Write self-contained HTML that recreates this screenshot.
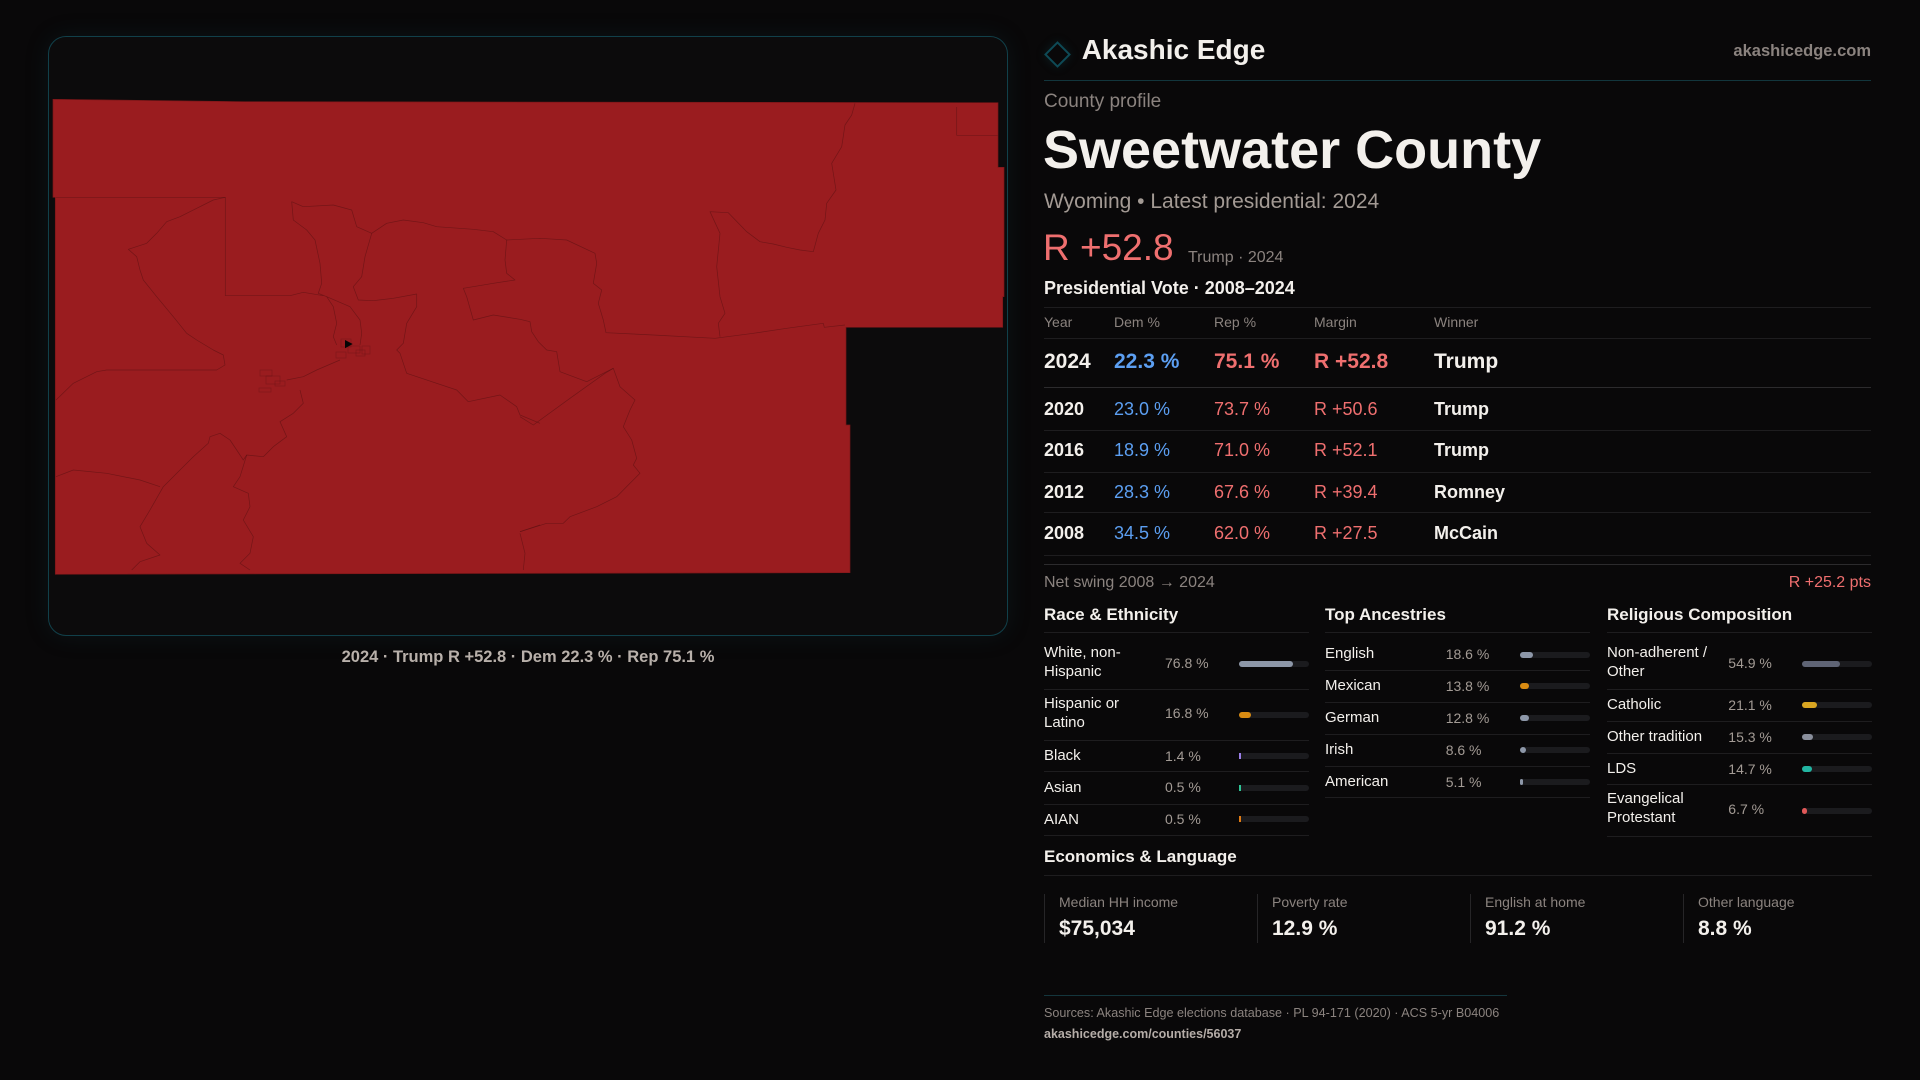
<!DOCTYPE html>
<html>
<head>
<meta charset="utf-8">
<style>
  html,body{margin:0;padding:0;}
  body{width:1920px;height:1080px;background:#090809;position:relative;overflow:hidden;
       font-family:"Liberation Sans",Arial,sans-serif;color:#f3f0ec;}
  .t{position:absolute;white-space:nowrap;line-height:1;}
  .b{font-weight:bold;}
  .g{color:#8b837f;}
  .v{color:#a39b95;}
  .w{color:#f3f0ec;}
  .blu{color:#5c9ff2;}
  .red{color:#ef6f6f;}
  .hl{position:absolute;height:1px;background:#1e1d1f;}
  .hl2{position:absolute;height:1px;background:#2c2b2d;}
  .trk{position:absolute;width:70px;height:6px;border-radius:3px;background:#1b1b1e;}
  .fil{position:absolute;left:0;top:0;height:6px;border-radius:3px;}
  .two{line-height:18.7px;}
  .vb{position:absolute;width:1px;height:49px;top:894px;background:#262527;}
</style>
</head>
<body>

<!-- Map panel -->
<div style="position:absolute;left:48px;top:36px;width:960px;height:600px;box-sizing:border-box;border:1px solid #11404a;border-radius:18px;background:#0c0b0c;box-shadow:0 0 24px rgba(20,70,85,0.18);"></div>

<svg style="position:absolute;left:0;top:0;" width="1920" height="700" viewBox="0 0 1920 700">
  <path d="M53,99.3 L246,101.7 L998,102.7 L998,167.3 L1004,167.3 L1004,296.7 L1002.7,296.7 L1002.7,327.3 L846,327.3 L846,425 L850,425 L850,572.7 L55.3,574.3 L55.3,197.3 L53,197.3 Z" fill="#9a1c1f" stroke="#7a1618" stroke-width="0.7"/>
  <g fill="none" stroke="#5a1113" stroke-width="0.7" stroke-opacity="0.6" stroke-linejoin="round">
    <polyline points="56,197.3 225.3,197.3 225.3,295.7 290,295.7 303.3,292.3 323.3,295.7"/>
    <polyline points="225.3,197.3 213.3,200 196.7,208.3 180,216.7 166.7,221.7 156.7,233.3 146.7,243.3 128.3,249.3 136.7,256.7 140,270 143.3,280 156.7,296.7 173.3,316.7 186.7,333.3 196.7,340 213.3,350 223.3,355 225,365 216.7,370 106.7,370 96.7,371.7 73.3,383.3 56,400"/>
    <polyline points="291.7,201.7 303.3,206.7 333.3,205 351.7,210 356.7,226.7 371.7,233.3 365,256.7 361.7,276.7 353.3,286.7 358.3,300 373.3,300.7 393.3,298.3 416.7,294 416.7,306.7 406.7,323.3 403.3,343.3 396.7,350 400,353.3 406.7,373.3 456.7,390 468.3,401.7 500,395 516.7,406.7 520,415 540,423.3"/>
    <polyline points="291.7,201.7 293.3,220 306.7,230 315,240 320,263.3 321.7,283.3 318.3,293.3 326.7,296.7 333.3,306.7 336.7,323.3 333.3,336.7 336.7,345"/>
    <polyline points="326.7,296.7 350,306.7 360,320 361.7,333.3 360,345"/>
    <polyline points="371.7,233.3 386.7,223.3 403.3,220 423.3,222.7 436.7,226.7 473.3,229.3 493.3,231.7 506.7,240 540,238.3 566.7,240 595,253.3 596.7,263.3 593.3,283.3 601.7,290 598.3,303.3 603.3,320 606,332.7 653.3,335 715,338.3 753.3,333.3 786.7,328.3 823.3,323.3 824.3,327.3 845,325"/>
    <polyline points="506.7,240 505,260 506.7,273.3 515,280 493.3,283.3 463.3,288.3 466.7,296.7 473.3,320 493.3,315 520,319.3 530,321.7 531.7,331.7 538.3,341.7 546.7,350 556.7,351.7 560,371.7 586.7,381.7 613.3,368.3 620,386.7 635,400 630,410 623.3,426.7 631.7,440 636.7,458.3 633.3,465 640,473.3 630,483.3 616.7,496.7 596.7,506.7 570,516.7 563.3,523.3 546.7,523.3 520,531.7"/>
    <polyline points="855,103.3 851.7,115 845,125 841.7,146.7 831.7,163.3 836,190 826.7,203.3 825,220 818.3,233.3 813.3,251.7 800,250 786.7,247.3 773.3,244 760,241.7 746.7,231.7 728.3,212.7 710,211.7 720,233.3 716.7,266.7 720,296.7 725,313.3 718.3,323.3 720,336.7"/>
    <polyline points="520,416.7 533.3,425 570,398.3 605,373.3 613.3,368.3"/>
    <polyline points="520,531.7 540,525"/>
    <polyline points="520,533.3 525,553.3 523.3,570"/>
    <polyline points="300,390 303.3,403.3 293.3,413.3 280,421.7 286.7,436.7 273.3,446.7 263.3,456.7 246.7,455 243.3,460 236.7,450 230,440 220,433.3 210,436.7 208.3,443.3 193.3,456.7 180,470 163.3,486.7 150,510 140,526.7 146.7,543.3 160,555 140,561.7 131.7,570"/>
    <polyline points="246.7,455 240,476.7 233.3,486.7 248.3,493.3 250,506.7 243.3,520 253.3,536.7 250,553.3 240,563.3 250,570"/>
    <polyline points="56,476.7 73.3,470 106.7,473.3 140,480 160,486.7"/>
    <polyline points="340,360 316.7,370 303.3,376.7 286.7,380"/>
    <polyline points="956.7,107 956.7,135.3 997.7,135.3"/>
  </g>
  <g fill="none" stroke="#5a1113" stroke-width="0.6" stroke-opacity="0.45">
    <rect x="341" y="339" width="10" height="8"/>
    <rect x="348" y="346" width="12" height="7"/>
    <rect x="356" y="350" width="9" height="6"/>
    <rect x="362" y="346" width="8" height="8"/>
    <rect x="336" y="352" width="10" height="6"/>
    <rect x="260" y="370" width="12" height="6"/>
    <rect x="266" y="376" width="14" height="8"/>
    <rect x="275" y="381" width="10" height="5"/>
    <rect x="259" y="388" width="12" height="4"/>
  </g>
  <polygon points="345,340 352.7,344 345,348.3" fill="#050505"/>
</svg>

<div class="t" style="left:48px;width:960px;text-align:center;top:648.7px;font-size:16.5px;color:#b8b0aa;font-weight:bold;">2024 · Trump R +52.8 · Dem 22.3 % · Rep 75.1 %</div>

<!-- Header -->
<div style="position:absolute;left:1048px;top:44.5px;width:19px;height:19px;box-sizing:border-box;border:2px solid #0e4a56;transform:rotate(45deg);box-shadow:0 0 10px rgba(20,90,100,0.25);"></div>
<div class="t b w" style="left:1081.7px;top:36.3px;font-size:28px;">Akashic Edge</div>
<div class="t b g" style="right:49px;top:42.7px;font-size:16.5px;">akashicedge.com</div>
<div style="position:absolute;left:1044px;top:80px;width:827px;height:1px;background:#12363d;"></div>

<div class="t g" style="left:1044px;top:92.2px;font-size:19px;">County profile</div>
<div class="t b w" style="left:1043px;top:122.6px;font-size:54px;">Sweetwater County</div>
<div class="t" style="left:1044px;top:190.5px;font-size:21px;color:#a39a94;">Wyoming • Latest presidential: 2024</div>
<div class="t red" style="left:1043px;top:228.7px;font-size:37px;">R +52.8</div>
<div class="t g" style="left:1188px;top:249.8px;font-size:16px;">Trump · 2024</div>
<div class="t b w" style="left:1044px;top:279.1px;font-size:18px;">Presidential Vote · 2008–2024</div>
<div class="hl" style="left:1044px;width:827px;top:307px;"></div>

<!-- Table -->
<div class="t g" style="left:1044px;top:315.4px;font-size:14px;">Year</div>
<div class="t g" style="left:1114px;top:315.4px;font-size:14px;">Dem %</div>
<div class="t g" style="left:1214px;top:315.4px;font-size:14px;">Rep %</div>
<div class="t g" style="left:1314px;top:315.4px;font-size:14px;">Margin</div>
<div class="t g" style="left:1434px;top:315.4px;font-size:14px;">Winner</div>
<div class="hl" style="left:1044px;width:827px;top:338px;"></div>

<div class="t b w" style="left:1044px;top:351.2px;font-size:21px;">2024</div>
<div class="t b blu" style="left:1114px;top:351.2px;font-size:21px;">22.3 %</div>
<div class="t b red" style="left:1214px;top:351.2px;font-size:21px;">75.1 %</div>
<div class="t b red" style="left:1314px;top:351.2px;font-size:21px;">R +52.8</div>
<div class="t b w" style="left:1434px;top:351.2px;font-size:21px;">Trump</div>
<div class="hl2" style="left:1044px;width:827px;top:387px;"></div>

<div class="t b w" style="left:1044px;top:399.8px;font-size:18px;">2020</div>
<div class="t blu" style="left:1114px;top:399.8px;font-size:18px;">23.0 %</div>
<div class="t red" style="left:1214px;top:399.8px;font-size:18px;">73.7 %</div>
<div class="t red" style="left:1314px;top:399.8px;font-size:18px;">R +50.6</div>
<div class="t b w" style="left:1434px;top:399.8px;font-size:18px;">Trump</div>
<div class="hl" style="left:1044px;width:827px;top:430px;"></div>

<div class="t b w" style="left:1044px;top:440.8px;font-size:18px;">2016</div>
<div class="t blu" style="left:1114px;top:440.8px;font-size:18px;">18.9 %</div>
<div class="t red" style="left:1214px;top:440.8px;font-size:18px;">71.0 %</div>
<div class="t red" style="left:1314px;top:440.8px;font-size:18px;">R +52.1</div>
<div class="t b w" style="left:1434px;top:440.8px;font-size:18px;">Trump</div>
<div class="hl" style="left:1044px;width:827px;top:471.5px;"></div>

<div class="t b w" style="left:1044px;top:482.5px;font-size:18px;">2012</div>
<div class="t blu" style="left:1114px;top:482.5px;font-size:18px;">28.3 %</div>
<div class="t red" style="left:1214px;top:482.5px;font-size:18px;">67.6 %</div>
<div class="t red" style="left:1314px;top:482.5px;font-size:18px;">R +39.4</div>
<div class="t b w" style="left:1434px;top:482.5px;font-size:18px;">Romney</div>
<div class="hl" style="left:1044px;width:827px;top:512px;"></div>

<div class="t b w" style="left:1044px;top:524.1px;font-size:18px;">2008</div>
<div class="t blu" style="left:1114px;top:524.1px;font-size:18px;">34.5 %</div>
<div class="t red" style="left:1214px;top:524.1px;font-size:18px;">62.0 %</div>
<div class="t red" style="left:1314px;top:524.1px;font-size:18px;">R +27.5</div>
<div class="t b w" style="left:1434px;top:524.1px;font-size:18px;">McCain</div>
<div class="hl" style="left:1044px;width:827px;top:555px;"></div>
<div class="hl2" style="left:1044px;width:827px;top:564px;"></div>

<div class="t g" style="left:1044px;top:574.8px;font-size:16px;">Net swing 2008 → 2024</div>
<div class="t red" style="right:49px;top:574.8px;font-size:16px;">R +25.2 pts</div>

<!-- Section headings -->
<div class="t b w" style="left:1044px;top:605.6px;font-size:17px;">Race &amp; Ethnicity</div>
<div class="t b w" style="left:1325px;top:605.6px;font-size:17px;">Top Ancestries</div>
<div class="t b w" style="left:1607px;top:605.6px;font-size:17px;">Religious Composition</div>
<div class="hl" style="left:1044px;width:265px;top:632px;"></div>
<div class="hl" style="left:1325px;width:265px;top:632px;"></div>
<div class="hl" style="left:1607px;width:265px;top:632px;"></div>

<!-- Race -->
<div class="t w two" style="left:1044px;top:644.45px;font-size:15px;">White, non-<br>Hispanic</div>
<div class="t v" style="left:1165px;top:655.85px;font-size:14px;">76.8 %</div>
<div class="trk" style="left:1239px;top:661px;"><div class="fil" style="width:54px;background:#8d97a8;"></div></div>
<div class="hl" style="left:1044px;width:265px;top:689px;"></div>

<div class="t w two" style="left:1044px;top:695.45px;font-size:15px;">Hispanic or<br>Latino</div>
<div class="t v" style="left:1165px;top:706.45px;font-size:14px;">16.8 %</div>
<div class="trk" style="left:1239px;top:712px;"><div class="fil" style="width:12px;background:#d98b12;"></div></div>
<div class="hl" style="left:1044px;width:265px;top:740px;"></div>

<div class="t w" style="left:1044px;top:748px;font-size:15px;">Black</div>
<div class="t v" style="left:1165px;top:748.85px;font-size:14px;">1.4 %</div>
<div class="trk" style="left:1239px;top:753px;"><div class="fil" style="width:1.5px;border-radius:0;background:#9b7fe8;"></div></div>
<div class="hl" style="left:1044px;width:265px;top:771px;"></div>

<div class="t w" style="left:1044px;top:779.6px;font-size:15px;">Asian</div>
<div class="t v" style="left:1165px;top:780.45px;font-size:14px;">0.5 %</div>
<div class="trk" style="left:1239px;top:785px;"><div class="fil" style="width:1.5px;border-radius:0;background:#2ec495;"></div></div>
<div class="hl" style="left:1044px;width:265px;top:804px;"></div>

<div class="t w" style="left:1044px;top:811.6px;font-size:15px;">AIAN</div>
<div class="t v" style="left:1165px;top:812.45px;font-size:14px;">0.5 %</div>
<div class="trk" style="left:1239px;top:816px;"><div class="fil" style="width:1.5px;border-radius:0;background:#e07b14;"></div></div>
<div class="hl" style="left:1044px;width:265px;top:835px;"></div>

<!-- Ancestries -->
<div class="t w" style="left:1325px;top:646.3px;font-size:15px;">English</div>
<div class="t v" style="left:1445.7px;top:647.15px;font-size:14px;">18.6 %</div>
<div class="trk" style="left:1520px;top:651.7px;"><div class="fil" style="width:13px;background:#8d97a8;"></div></div>
<div class="hl" style="left:1325px;width:265px;top:670px;"></div>

<div class="t w" style="left:1325px;top:678.3px;font-size:15px;">Mexican</div>
<div class="t v" style="left:1445.7px;top:679.15px;font-size:14px;">13.8 %</div>
<div class="trk" style="left:1520px;top:683.3px;"><div class="fil" style="width:9px;background:#d98b12;"></div></div>
<div class="hl" style="left:1325px;width:265px;top:702px;"></div>

<div class="t w" style="left:1325px;top:710.3px;font-size:15px;">German</div>
<div class="t v" style="left:1445.7px;top:711.15px;font-size:14px;">12.8 %</div>
<div class="trk" style="left:1520px;top:715px;"><div class="fil" style="width:9px;background:#8d97a8;"></div></div>
<div class="hl" style="left:1325px;width:265px;top:734px;"></div>

<div class="t w" style="left:1325px;top:742.3px;font-size:15px;">Irish</div>
<div class="t v" style="left:1445.7px;top:743.15px;font-size:14px;">8.6 %</div>
<div class="trk" style="left:1520px;top:747px;"><div class="fil" style="width:6px;background:#8d97a8;"></div></div>
<div class="hl" style="left:1325px;width:265px;top:766px;"></div>

<div class="t w" style="left:1325px;top:774.3px;font-size:15px;">American</div>
<div class="t v" style="left:1445.7px;top:775.15px;font-size:14px;">5.1 %</div>
<div class="trk" style="left:1520px;top:779px;"><div class="fil" style="width:3px;border-radius:1.5px;background:#8d97a8;"></div></div>
<div class="hl" style="left:1325px;width:265px;top:797px;"></div>

<!-- Religion -->
<div class="t w two" style="left:1607px;top:644.45px;font-size:15px;">Non-adherent /<br>Other</div>
<div class="t v" style="left:1728.3px;top:655.85px;font-size:14px;">54.9 %</div>
<div class="trk" style="left:1802px;top:661px;"><div class="fil" style="width:38px;background:#5f6475;"></div></div>
<div class="hl" style="left:1607px;width:265px;top:689px;"></div>

<div class="t w" style="left:1607px;top:697.3px;font-size:15px;">Catholic</div>
<div class="t v" style="left:1728.3px;top:698.15px;font-size:14px;">21.1 %</div>
<div class="trk" style="left:1802px;top:702.3px;"><div class="fil" style="width:15px;background:#d9a521;"></div></div>
<div class="hl" style="left:1607px;width:265px;top:721px;"></div>

<div class="t w" style="left:1607px;top:729px;font-size:15px;">Other tradition</div>
<div class="t v" style="left:1728.3px;top:729.85px;font-size:14px;">15.3 %</div>
<div class="trk" style="left:1802px;top:734px;"><div class="fil" style="width:11px;background:#8a8f9c;"></div></div>
<div class="hl" style="left:1607px;width:265px;top:753px;"></div>

<div class="t w" style="left:1607px;top:761px;font-size:15px;">LDS</div>
<div class="t v" style="left:1728.3px;top:761.85px;font-size:14px;">14.7 %</div>
<div class="trk" style="left:1802px;top:766px;"><div class="fil" style="width:10px;background:#22b5a2;"></div></div>
<div class="hl" style="left:1607px;width:265px;top:784px;"></div>

<div class="t w two" style="left:1607px;top:790.45px;font-size:15px;">Evangelical<br>Protestant</div>
<div class="t v" style="left:1728.3px;top:802.45px;font-size:14px;">6.7 %</div>
<div class="trk" style="left:1802px;top:808.3px;"><div class="fil" style="width:5px;background:#e05858;"></div></div>
<div class="hl" style="left:1607px;width:265px;top:836px;"></div>

<!-- Economics -->
<div class="t b w" style="left:1044px;top:848.3px;font-size:17px;">Economics &amp; Language</div>
<div class="hl" style="left:1044px;width:828px;top:875px;"></div>

<div class="vb" style="left:1044px;"></div>
<div class="vb" style="left:1257px;"></div>
<div class="vb" style="left:1470px;"></div>
<div class="vb" style="left:1683px;"></div>

<div class="t g" style="left:1059px;top:894.85px;font-size:14px;">Median HH income</div>
<div class="t b w" style="left:1059px;top:918.2px;font-size:21px;">$75,034</div>
<div class="t g" style="left:1272px;top:894.85px;font-size:14px;">Poverty rate</div>
<div class="t b w" style="left:1272px;top:918.2px;font-size:21px;">12.9 %</div>
<div class="t g" style="left:1485px;top:894.85px;font-size:14px;">English at home</div>
<div class="t b w" style="left:1485px;top:918.2px;font-size:21px;">91.2 %</div>
<div class="t g" style="left:1698px;top:894.85px;font-size:14px;">Other language</div>
<div class="t b w" style="left:1698px;top:918.2px;font-size:21px;">8.8 %</div>

<!-- Footer -->
<div style="position:absolute;left:1044px;top:995px;width:463px;height:1px;background:#14363d;"></div>
<div class="t g" style="left:1044px;top:1006.7px;font-size:12.6px;">Sources: Akashic Edge elections database · PL 94-171 (2020) · ACS 5-yr B04006</div>
<div class="t b" style="left:1044px;top:1027.7px;font-size:12.5px;color:#b5ada8;">akashicedge.com/counties/56037</div>

</body>
</html>
